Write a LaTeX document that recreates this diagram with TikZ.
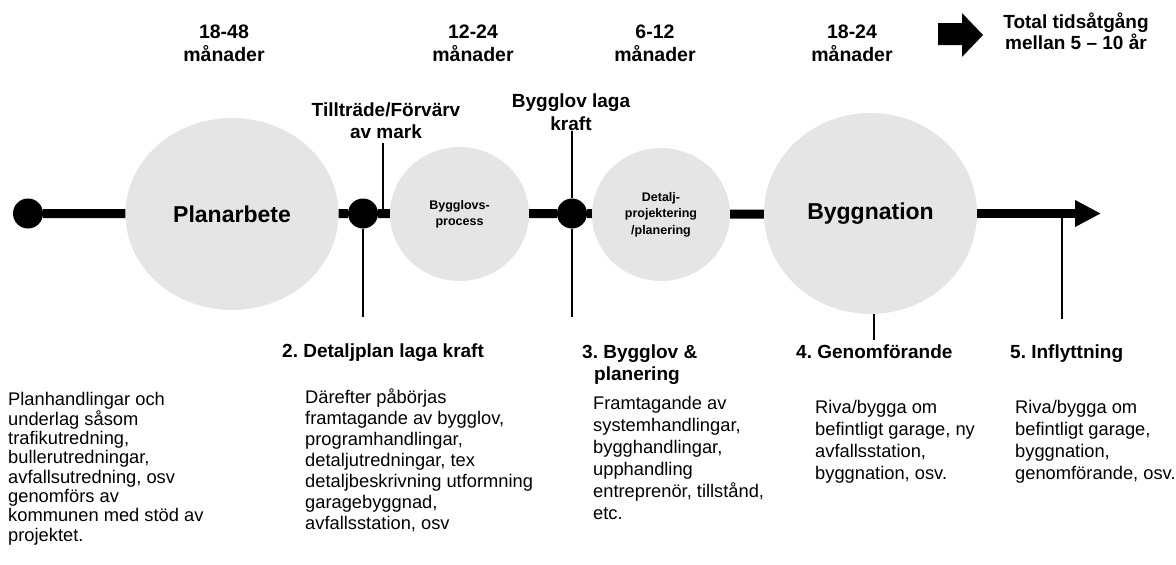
\documentclass[tikz,border=0pt]{standalone}
\usepackage{fontspec}
\setmainfont{Liberation Sans}
\usetikzlibrary{arrows.meta,shapes.geometric}
\definecolor{phasegray}{RGB}{229,229,230}
\frenchspacing

\begin{document}
\begin{tikzpicture}[x=1pt,y=-1pt,
    phase/.style={ellipse,fill=phasegray,inner sep=0pt,align=center},
    milestone/.style={circle,fill=black,minimum size=30pt,inner sep=0pt},
    axis/.style={line width=9pt},
    tick/.style={line width=2pt},
    period/.style={anchor=base,align=center,font=\bfseries\fontsize{19.5}{23}\selectfont},
    event/.style={anchor=base,align=center,font=\bfseries\fontsize{19}{22}\selectfont},
    stage/.style={anchor=base west,align=left,inner sep=0pt,font=\bfseries\fontsize{19}{22}\selectfont},
    note/.style={anchor=base west,align=left,inner sep=0pt,font=\fontsize{18.3}{22}\selectfont}]
\useasboundingbox (0,0) rectangle (1176,565);

\node[period] (p1) at (224,61) {18-48\\månader};
\node[period] (p2) at (473,61) {12-24\\månader};
\node[period] (p3) at (655,61) {6-12\\månader};
\node[period] (p4) at (852,61) {18-24\\månader};
\fill (938,23)--(962,23)--(962,13)--(983,35)--(962,57)--(962,45)--(938,45)--cycle;
\node[period,font=\bfseries\fontsize{19}{21}\selectfont] (total) at (1076,49.3) {Total tidsåtgång\\mellan 5 – 10 år};

\node[event] (till) at (386,138) {Tillträde/Förvärv\\av mark};
\node[event,font=\bfseries\fontsize{19}{23}\selectfont] (blk) at (571,130) {Bygglov laga\\kraft};

\node[milestone] (m0) at (28,213.5) {};
\node[phase,minimum width=213pt,minimum height=192pt,font=\bfseries\fontsize{23}{27}\selectfont] (plan) at (232,214) {Planarbete};
\node[milestone] (m1) at (363,213.5) {};
\node[phase,minimum width=139pt,minimum height=134pt,font=\bfseries\fontsize{12.5}{16}\selectfont] (bproc) at (459.5,214) {Bygglovs-\\process};
\node[milestone] (m2) at (572,213.5) {};
\node[phase,minimum width=138pt,minimum height=133pt,font=\bfseries\fontsize{12.5}{16.5}\selectfont] (dproj) at (661,214.5) {Detalj-\\projektering\\/planering};
\node[phase,minimum width=213pt,minimum height=201pt,font=\bfseries\fontsize{23}{27}\selectfont] (bygg) at (870.5,213.5) {Byggnation};
\coordinate (end) at (1101,213.5);

\draw[axis] (m0) -- (plan);
\draw[axis] (plan) -- (m1);
\draw[axis] (m1) -- (bproc);
\draw[axis] (bproc) -- (m2);
\draw[axis] (m2) -- (dproj);
\draw[axis] (dproj) -- (bygg);
\draw[axis,-{Triangle[length=26pt,width=25pt]}] (bygg) -- (end);

\coordinate (tillt) at (383,143);
\coordinate (tillb) at (383,213.5);
\draw[tick] (tillt) -- (tillb);
\coordinate (m1b) at (363,317);
\draw[tick] (m1) -- (m1b);
\coordinate (m2t) at (572,131);
\coordinate (m2b) at (572,317);
\draw[tick] (m2t) -- (m2) -- (m2b);
\coordinate (byggb) at (874,340);
\draw[tick] (bygg.south -| byggb) -- (byggb);
\coordinate (movet) at (1062,218);
\coordinate (moveb) at (1062,319);
\draw[tick] (movet) -- (moveb);

\node[stage] (s2) at (282,357) {2. Detaljplan laga kraft};
\node[stage] (s3) at (582,380) {3. Bygglov \&\\\hspace*{12pt}planering};
\node[stage] (s4) at (796,358) {4. Genomförande};
\node[stage] (s5) at (1010,358) {5. Inflyttning};

\node[note,font=\fontsize{18.3}{19.3}\selectfont] (n1) at (8,541) {Planhandlingar och\\underlag såsom\\trafikutredning,\\bullerutredningar,\\avfallsutredning, osv\\genomförs av\\kommunen med stöd av\\projektet.};
\node[note,font=\fontsize{18.3}{21}\selectfont] (n2) at (305,529) {Därefter påbörjas\\framtagande av bygglov,\\programhandlingar,\\detaljutredningar, tex\\detaljbeskrivning utformning\\garagebyggnad,\\avfallsstation, osv};
\node[note] (n3) at (593,519) {Framtagande av\\systemhandlingar,\\bygghandlingar,\\upphandling\\entreprenör, tillstånd,\\etc.};
\node[note] (n4) at (815,479) {Riva/bygga om\\befintligt garage, ny\\avfallsstation,\\byggnation, osv.};
\node[note] (n5) at (1015,479) {Riva/bygga om\\befintligt garage,\\byggnation,\\genomförande, osv.};
\end{tikzpicture}
\end{document}
